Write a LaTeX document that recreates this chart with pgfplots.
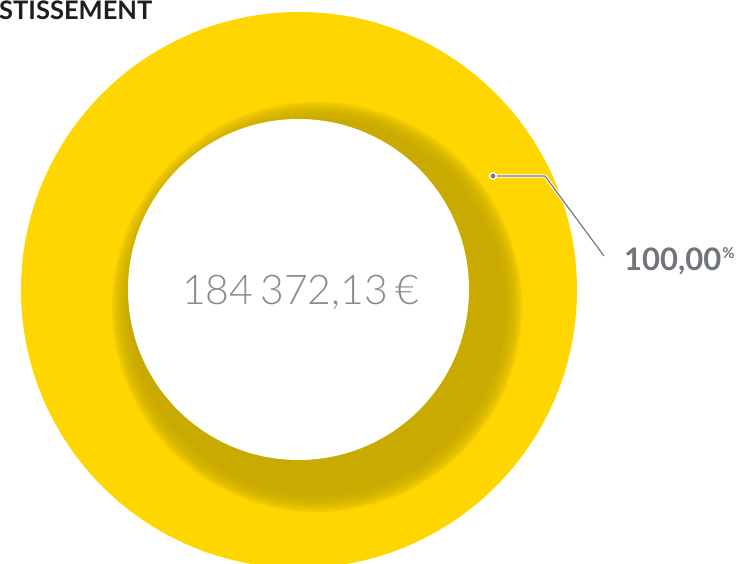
\documentclass[border=0pt]{standalone}
\usepackage{pgfplots}
\pgfplotsset{compat=1.18}
\usepackage{fontspec}
\setmainfont{Lato}
\newfontfamily\latolight{Lato Light}
\definecolor{donut}{RGB}{255,214,0}
\definecolor{shadowyellow}{RGB}{200,170,0}
\definecolor{labgray}{RGB}{112,117,124}
\definecolor{valgray}{RGB}{135,140,147}
\definecolor{linegray}{RGB}{118,122,128}
\definecolor{titleblack}{RGB}{30,30,30}
\begin{document}
\begin{tikzpicture}
\begin{axis}[
  x=1pt, y=1pt,
  xmin=0, xmax=737, ymin=-563, ymax=0,
  hide axis, clip=true,
]
% outer ring (single slice = 100 %)
\fill[donut] (axis cs:299,-290) circle[radius=278];
% inner drop shadow (blurred)
\fill[shadowyellow] (axis cs:317,-307) circle[radius=189];
\pgfplotsinvokeforeach{191,193,195,197,199,201,203,205}{
  \fill[shadowyellow,opacity=0.22] (axis cs:317,-307) circle[radius=#1];
}
% hole
\fill[white] (axis cs:298.5,-289.5) circle[radius=170.5];
% leader line
\addplot[white, line width=3.2pt, line join=round, line cap=round, forget plot] coordinates {(493,-176) (545,-176) (604,-256)};
\addplot[linegray, line width=1.2pt, line join=round, forget plot] coordinates {(493,-176) (545,-176) (604,-256)};
\addplot[only marks, mark=*, mark size=3.3pt, mark options={fill=linegray, draw=white, line width=1.3pt}, forget plot] coordinates {(493,-176)};
% texts
\node[anchor=base west, inner sep=0pt, text=titleblack, font=\fontsize{25.5}{28}\selectfont\bfseries] at (axis cs:-1,-20) {STISSEMENT};
\node[anchor=center, inner sep=0pt, text=valgray, font=\latolight\fontsize{41}{44}\selectfont] at (axis cs:300.5,-292) {184\,372,13\,€};
\node[anchor=base west, inner sep=0pt, text=labgray, font=\fontsize{31}{34}\selectfont\bfseries] at (axis cs:624,-270.5) {100,00\kern1pt\raisebox{12pt}{\fontsize{15}{16}\selectfont\%}};
\end{axis}
\pgfresetboundingbox
\path (current axis.south west) rectangle (current axis.north east);
\end{tikzpicture}
\end{document}
